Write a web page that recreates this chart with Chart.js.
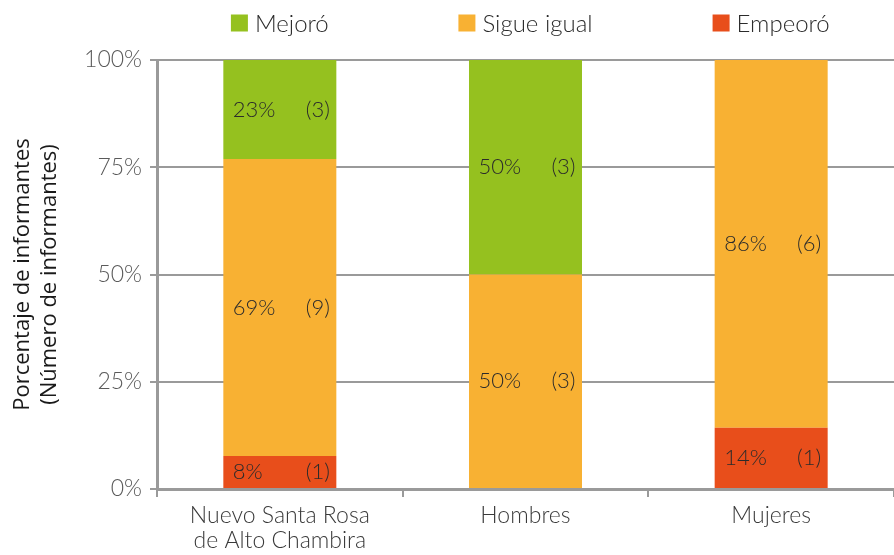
<!DOCTYPE html>
<html>
<head>
<meta charset="utf-8">
<script src="https://cdn.jsdelivr.net/npm/chart.js"></script>
<style>
  html, body { margin: 0; padding: 0; background: #fff; }
  #wrap { width: 894px; height: 555px; }
</style>
</head>
<body>
<div id="wrap"><canvas id="chart" width="894" height="555"></canvas></div>
<script>
// Data
const categories = [["Nuevo Santa Rosa", "de Alto Chambira"], "Hombres", "Mujeres"];
const seriesNames = ["Mejoró", "Sigue igual", "Empeoró"];
const seriesColors = ["#95C11F", "#F8B133", "#E84E1B"];
// share of informants (%) per series, per category
const pctMejoro = [23.1, 50, 0];
const pctSigue = [69.2, 50, 85.7];
const pctEmpeoro = [7.7, 0, 14.3];
// number of informants per series, per category
const nMejoro = [3, 3, 0];
const nSigue = [9, 3, 6];
const nEmpeoro = [1, 0, 1];
const yTicks = [0, 25, 50, 75, 100];

const FONT = "Lato";
const gridGray = "#9a9a9a";

// stacking order bottom-up: Empeoró, Sigue igual, Mejoró
const datasets = [
    { label: seriesNames[2], data: pctEmpeoro, counts: nEmpeoro, backgroundColor: seriesColors[2] },
    { label: seriesNames[1], data: pctSigue, counts: nSigue, backgroundColor: seriesColors[1] },
    { label: seriesNames[0], data: pctMejoro, counts: nMejoro, backgroundColor: seriesColors[0] }
];

// labels inside each segment: "23%    (3)"
const segmentLabels = {
    id: "segmentLabels",
    afterDatasetsDraw(chart) {
        const ctx = chart.ctx;
        ctx.save();
        ctx.font = "300 22px " + FONT;
        ctx.fillStyle = "#2b2b2b";
        ctx.textBaseline = "middle";
        chart.data.datasets.forEach((ds, di) => {
            const meta = chart.getDatasetMeta(di);
            meta.data.forEach((bar, i) => {
                const v = ds.data[i];
                if (!v) return;
                const y = (bar.y + bar.base) / 2;
                ctx.textAlign = "left";
                ctx.fillText(Math.round(v) + "%", bar.x - 47, y);
                ctx.textAlign = "right";
                ctx.fillText("(" + ds.counts[i] + ")", bar.x + 50, y);
            });
        });
        ctx.restore();
    }
};

// legend items centered above the categories
const topLegend = {
    id: "topLegend",
    afterDraw(chart) {
        const ctx = chart.ctx;
        const xs = chart.scales.x;
        ctx.save();
        ctx.font = "300 24px " + FONT;
        ctx.textBaseline = "middle";
        ctx.textAlign = "left";
        seriesNames.forEach((name, i) => {
            const cx = xs.getPixelForValue(i);
            const box = 17, gap = 7;
            const w = box + gap + ctx.measureText(name).width;
            const x0 = cx - w / 2;
            const y = 23;
            ctx.fillStyle = seriesColors[i];
            ctx.fillRect(x0, y - box / 2, box, box);
            ctx.fillStyle = "#2b2b2b";
            ctx.fillText(name, x0 + box + gap, y + 1);
        });
        ctx.restore();
    }
};

new Chart(document.getElementById("chart"), {
    type: "bar",
    data: { labels: categories, datasets: datasets },
    plugins: [segmentLabels, topLegend],
    options: {
        responsive: false,
        animation: false,
        layout: { padding: { top: 60, left: 0, right: -3, bottom: 0 } },
        datasets: { bar: { categoryPercentage: 1, barPercentage: 0.46 } },
        plugins: { legend: { display: false }, tooltip: { enabled: false } },
        scales: {
            x: {
                stacked: true,
                grid: { display: true, offset: true, drawOnChartArea: false, drawTicks: true, tickLength: 8, color: gridGray, lineWidth: 2 },
                border: { display: true, color: gridGray, width: 3 },
                ticks: { color: "#3a3a3a", font: { family: FONT, size: 23, weight: "300", lineHeight: 1.1 }, padding: 6, maxRotation: 0, autoSkip: false },
                afterFit(scale) { scale.height = 66; }
            },
            y: {
                stacked: true,
                min: 0,
                max: 100,
                afterBuildTicks(scale) { scale.ticks = yTicks.map(v => ({ value: v })); },
                grid: { color: gridGray, lineWidth: 2, drawTicks: true, tickLength: 7 },
                border: { display: true, color: gridGray, width: 3 },
                ticks: {
                    color: "#5a5a5a",
                    padding: 8,
                    font: { family: FONT, size: 23, weight: "300" },
                    callback: v => v + "%"
                },
                title: {
                    display: true,
                    text: ["Porcentaje de informantes", "(Número de informantes)"],
                    color: "#1a1a1a",
                    font: { family: "Open Sans", size: 22, weight: "400", lineHeight: 1.2 },
                    padding: { top: 10, bottom: 0 }
                },
                afterFit(scale) { scale.width = 157; }
            }
        }
    }
});
</script>
</body>
</html>
